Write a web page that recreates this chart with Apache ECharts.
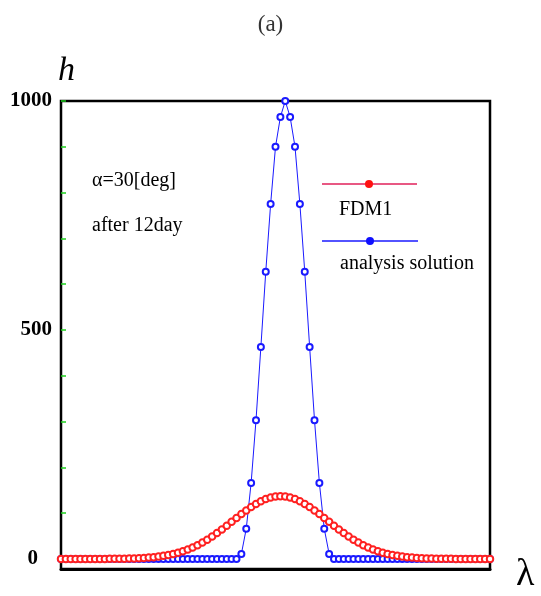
<!DOCTYPE html>
<html><head><meta charset="utf-8">
<script src="https://cdn.jsdelivr.net/npm/echarts@6/dist/echarts.min.js"></script>
<style>html,body{margin:0;padding:0;background:#fff}#c{width:541px;height:596px}</style>
</head><body><div id="c"></div>
<script>
// FDM1 numerical solution (red), one value per grid point
const fdm1 = [0,0,0,0,0,0,0,0,0,0,
  0.2,0.3,0.4,0.6,0.9,1.2,1.7,2.2,3.0,3.9,
  5.2,6.7,8.5,10.8,13.5,16.8,20.6,25.0,30.1,35.8,
  42.1,49.0,56.4,64.4,72.6,81.1,89.6,97.9,105.9,113.4,
  120.2,126.0,130.7,134.2,136.3,137,136.3,134.2,130.7,126.0,
  120.2,113.4,105.9,97.9,89.6,81.1,72.6,64.4,56.4,49.0,
  42.1,35.8,30.1,25.0,20.6,16.8,13.5,10.8,8.5,6.7,
  5.2,3.9,3.0,2.2,1.7,1.2,0.9,0.6,0.4,0.3,
  0.2,0,0,0,0,0,0,0,0];
// analysis solution (blue)
const analysis = [0,0,0,0,0,0,0,0,0,0,
  0,0,0,0,0,0,0,0,0,0,
  0,0,0,0,0,0,0,0,0,0,
  0,0,0,0,0,0,0,11,66,166,
  303,463,627,775,900,965,1000,965,900,775,
  627,463,303,166,66,11,0,0,0,0,
  0,0,0,0,0,0,0,0,0,0,
  0,0,0,0,0,0,0,0,0,0,
  0,0,0,0,0,0,0,0,0];
const yTickLabels = [0, 500, 1000];
const yMinorTicks = [0, 100, 200, 300, 400, 500, 600, 700, 800, 900, 1000];
const seriesNames = ['FDM1', 'analysis solution'];
const notes = ['\u03b1=30[deg]', 'after 12day'];

const toPairs = arr => arr.map((v, i) => [i, v]);
const serif = 'Liberation Serif';

const chart = echarts.init(document.getElementById('c'));
chart.setOption({
  animation: false,
  backgroundColor: '#fff',
  title: {
    text: '(a)', left: 'center', top: 8,
    textStyle: { fontFamily: serif, fontSize: 23, fontWeight: 'normal', color: '#333' }
  },
  grid: { left: 61, right: 51, top: 101, bottom: 27, show: true, borderColor: '#000', borderWidth: 2.5, backgroundColor: 'transparent' },
  xAxis: {
    type: 'value', min: 0, max: fdm1.length - 1,
    axisLine: { show: true, onZero: false, lineStyle: { color: '#000', width: 3 } },
    axisTick: { show: false }, axisLabel: { show: false }, splitLine: { show: false }
  },
  yAxis: {
    type: 'value', min: -22, max: 1000,
    axisLine: { show: true, onZero: false, lineStyle: { color: '#000', width: 2 } },
    axisTick: { show: true, inside: true, length: 5, customValues: yMinorTicks, lineStyle: { color: '#1fd01f', width: 1.5 } },
    axisLabel: {
      customValues: yTickLabels, margin: 9, fontFamily: serif, fontSize: 21, fontWeight: 'bold', color: '#000',
      formatter: v => v === 0 ? '{z|0}' : String(v),
      rich: { z: { fontFamily: serif, fontSize: 21, color: '#000', fontWeight: 'bold', padding: [0, 14, 0, 0] } }
    },
    splitLine: { show: false }
  },
  series: [
    {
      name: seriesNames[1], type: 'line', data: toPairs(analysis),
      symbol: 'emptyCircle', symbolSize: 6, showAllSymbol: true,
      lineStyle: { color: '#1a1aff', width: 1 },
      itemStyle: { color: '#1a1aff', borderWidth: 1 }, z: 3
    },
    {
      name: seriesNames[0], type: 'line', data: toPairs(fdm1),
      symbol: 'emptyCircle', symbolSize: 6.5, showAllSymbol: true,
      lineStyle: { color: '#ff2020', width: 1 },
      itemStyle: { color: '#ff2020', borderWidth: 1 }, z: 4
    }
  ],
  graphic: [
    { type: 'text', left: 58, top: 54, style: { text: 'h', font: 'italic 34px ' + serif, fill: '#000' } },
    { type: 'text', left: 516, top: 556, style: { text: '\u03bb', font: '38px ' + serif, fill: '#000' } },
    { type: 'text', left: 92, top: 171, style: { text: notes[0], font: '20px ' + serif, fill: '#000' } },
    { type: 'text', left: 92, top: 216, style: { text: notes[1], font: '20px ' + serif, fill: '#000' } },
    { type: 'line', shape: { x1: 322, y1: 184, x2: 417, y2: 184 }, style: { stroke: '#e0205a', lineWidth: 1.5 } },
    { type: 'circle', shape: { cx: 369, cy: 184, r: 4 }, style: { fill: '#ff1010' } },
    { type: 'text', left: 339, top: 200, style: { text: seriesNames[0], font: '20px ' + serif, fill: '#000' } },
    { type: 'line', shape: { x1: 322, y1: 241, x2: 418, y2: 241 }, style: { stroke: '#1a1aff', lineWidth: 1.5 } },
    { type: 'circle', shape: { cx: 370, cy: 241, r: 4 }, style: { fill: '#1010ff' } },
    { type: 'text', left: 340, top: 254, style: { text: seriesNames[1], font: '20px ' + serif, fill: '#000' } }
  ]
});
</script>
</body></html>
